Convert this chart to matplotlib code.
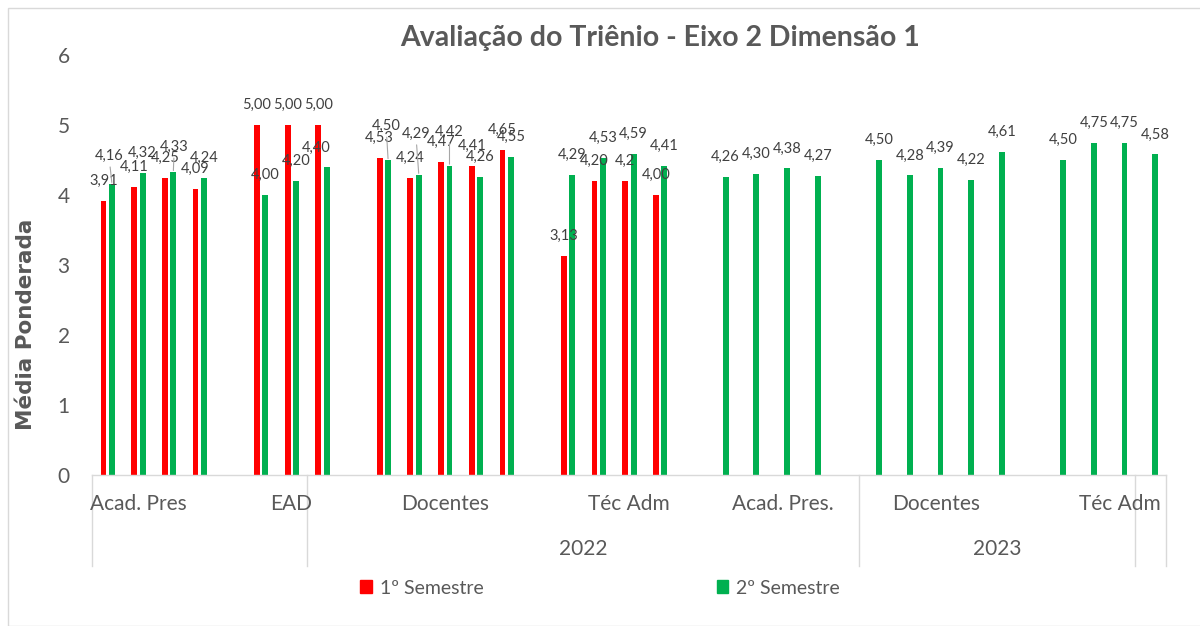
import numpy as np
import matplotlib
matplotlib.use('Agg')
import matplotlib.pyplot as plt
import matplotlib.transforms as mtrans
from matplotlib.patches import Rectangle, Patch
from matplotlib.lines import Line2D

plt.rcParams['font.family'] = ['Lato', 'DejaVu Sans']

nan = np.nan
# 35 linhas da planilha (linhas vazias entre os grupos)
sem1 = [3.91, 4.11, 4.25, 4.09, nan,
        5.00, 5.00, 5.00, nan,
        4.53, 4.24, 4.47, 4.41, 4.65, nan,
        3.13, 4.20, 4.20, 4.00, nan,
        nan, nan, nan, nan, nan,
        nan, nan, nan, nan, nan, nan,
        nan, nan, nan, nan]
sem2 = [4.16, 4.32, 4.33, 4.24, nan,
        4.00, 4.20, 4.40, nan,
        4.50, 4.29, 4.42, 4.26, 4.55, nan,
        4.29, 4.53, 4.59, 4.41, nan,
        4.26, 4.30, 4.38, 4.27, nan,
        4.50, 4.28, 4.39, 4.22, 4.61, nan,
        4.50, 4.75, 4.75, 4.58]
sem1_txt = {17: '4,2'}  # rotulo como aparece no original

categorias = ['Acad. Pres', 'EAD', 'Docentes', 'Téc Adm', 'Acad. Pres.', 'Docentes', 'Téc Adm']
cat_pos = [1.0, 6.0, 11.0, 17.0, 22.0, 27.0, 33.0]
anos = ['2022', '2023']
anos_faixa = [(6.5, 24.5), (24.5, 33.5)]
divisorias = [-0.5, 6.5, 24.5, 33.5, 34.5]

# deslocamento (px) dos rotulos que o Excel empurrou
nudge2 = {0: (-3, 28), 2: (1, 25), 7: (-11, 19), 9: (-2, 34), 10: (-3, 41), 11: (0, 34)}
leader2 = [0, 2, 9, 10, 11]

cinza = '#595959'
vermelho = '#FF0000'
verde = '#00B050'

fig = plt.figure(figsize=(12, 6.26), dpi=100)
ax = fig.add_axes([92 / 1200, 1 - 475 / 626, 1074 / 1200, 420 / 626])

x = np.arange(len(sem2))
w = 0.19
ax.bar(x - 0.125, sem1, width=w, color=vermelho, zorder=2)
ax.bar(x + 0.15, sem2, width=w, color=verde, zorder=2)


def fmt(v):
    return f'{v:.2f}'.replace('.', ',')


for i, v in enumerate(sem1):
    if np.isnan(v):
        continue
    ax.annotate(sem1_txt.get(i, fmt(v)), (x[i] - 0.125, v), xytext=(0, 20),
                textcoords='offset pixels', ha='center', va='center',
                fontsize=10.5, color='#404040')

for i, v in enumerate(sem2):
    if np.isnan(v):
        continue
    dx, dy = nudge2.get(i, (0, 20))
    arrow = None
    if i in leader2:
        arrow = dict(arrowstyle='-', color='#a6a6a6', lw=0.8, shrinkA=1, shrinkB=1)
    ax.annotate(fmt(v), (x[i] + 0.15, v), xytext=(dx, dy),
                textcoords='offset pixels', ha='center', va='center',
                fontsize=10.5, color='#404040', arrowprops=arrow)

ax.set_xlim(-0.5, 34.5)
ax.set_ylim(0, 6)
ax.set_yticks(range(7))
ax.tick_params(axis='y', length=0, pad=16, labelsize=15, labelcolor=cinza)
ax.set_xticks([])
for s in ['top', 'right', 'left']:
    ax.spines[s].set_visible(False)
ax.spines['bottom'].set_color('#d9d9d9')
ax.spines['bottom'].set_linewidth(1)

ax.set_ylabel('Média Ponderada', family='DejaVu Sans', fontweight='bold',
              fontsize=15.5, color=cinza)
ax.yaxis.set_label_coords((36 - 92) / 1074, (475 - 324) / 420)

# eixo de categorias em dois niveis
tr = mtrans.blended_transform_factory(ax.transData, ax.transAxes)
for c, p in zip(categorias, cat_pos):
    ax.text(p, (475 - 504) / 420, c, transform=tr, ha='center', va='center',
            fontsize=15, color=cinza)
for a, (x0, x1) in zip(anos, anos_faixa):
    ax.text((x0 + x1) / 2, (475 - 549) / 420, a, transform=tr, ha='center',
            va='center', fontsize=15, color=cinza)
for d in divisorias:
    ax.add_line(Line2D([d, d], [0, (475 - 566) / 420], transform=tr,
                       color='#d9d9d9', lw=1, clip_on=False))

fig.text(660 / 1200, 1 - 38 / 626, 'Avaliação do Triênio - Eixo 2 Dimensão 1',
         ha='center', va='center', fontsize=20.5, fontweight='bold', color=cinza)

handles = [Patch(color=vermelho), Patch(color=verde)]
fig.legend(handles, ['1º Semestre', '2º Semestre'], loc='center',
           bbox_to_anchor=(600 / 1200, 1 - 588 / 626), ncol=2, frameon=False,
           fontsize=14, labelcolor=cinza, handlelength=0.6, handleheight=0.6,
           handletextpad=0.4, columnspacing=12.0)

# borda da area do grafico
fig.patches.append(Rectangle((8 / 1200, 0.0), 1.2, 1 - 8 / 626,
                             transform=fig.transFigure, fill=False,
                             edgecolor='#d9d9d9', lw=1))

fig.savefig('out.png', dpi=100)
